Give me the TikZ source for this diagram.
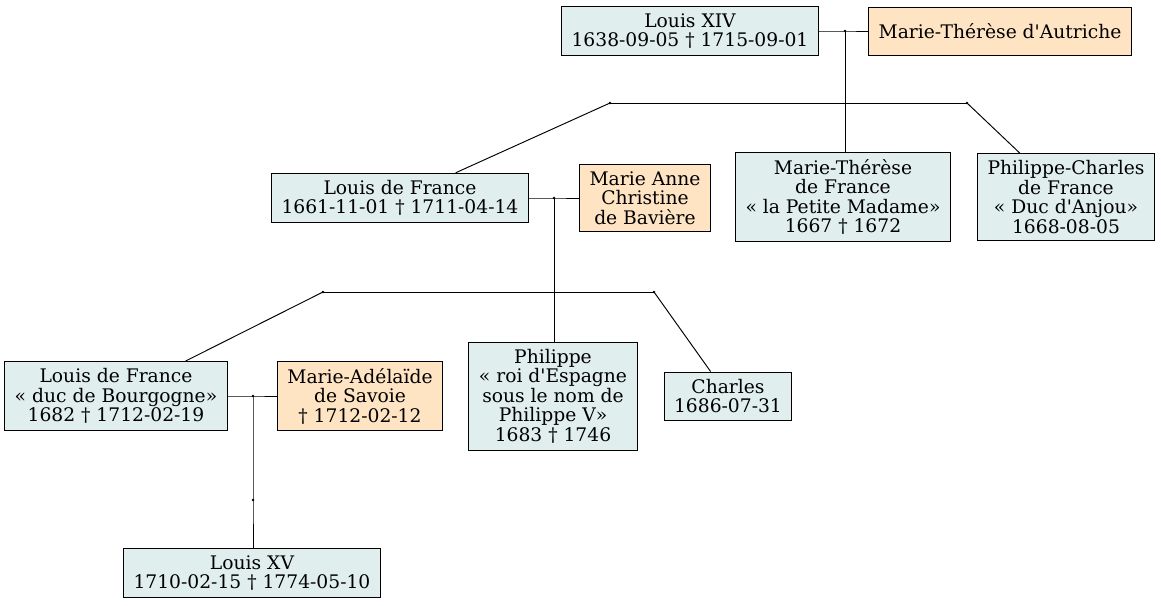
\documentclass[tikz,border=0pt]{standalone}
\usepackage{fontspec}
\setmainfont{DejaVu Serif}
\usetikzlibrary{positioning}
\definecolor{kinfill}{HTML}{E0EEEE}
\definecolor{spousefill}{HTML}{FFE4C4}
\newcommand{\ap}{\textquotesingle}

\begin{document}
\begin{tikzpicture}[
  x=1pt,y=-1pt,
  font=\fontsize{18.7}{19.5}\selectfont,
  kin/.style={draw,fill=kinfill,inner xsep=10pt,inner ysep=7pt,align=center,
              minimum height=48pt},
  spouse/.style={kin,fill=spousefill},
  jn/.style={circle,fill,inner sep=0pt,minimum size=2.8pt},
  every path/.style={line width=0.95pt}
]
\useasboundingbox (0,0) rectangle (1161,605);

\node[kin] (louis14) at (690,31) {Louis XIV\\1638-09-05 † 1715-09-01};
\node[spouse] (mtautriche) at (1000,31) {Marie-Thérèse d\ap Autriche};
\node[jn] (m1) at (845,31) {};
\node[jn] (b1l) at (610,103) {};
\node[jn] (b1r) at (967,103) {};

\node[kin] (grdauphin) at (400,198) {Louis de France\\1661-11-01 † 1711-04-14};
\node[spouse] (mabaviere) at (645,198) {Marie Anne\\Christine\\de Bavière};
\node[kin] (mtfrance) at (843,197) {Marie-Thérèse\\de France\\« la Petite Madame»\\1667 † 1672};
\node[kin] (pcharles) at (1066,197) {Philippe-Charles\\de France\\« Duc d\ap Anjou»\\1668-08-05};
\node[jn] (m2) at (554,198) {};
\node[jn] (b2l) at (323,292) {};
\node[jn] (b2r) at (654,292) {};

\node[kin] (bourgogne) at (116,396) {Louis de France\\« duc de Bourgogne»\\1682 † 1712-02-19};
\node[spouse] (masavoie) at (360,396) {Marie-Adélaïde\\de Savoie\\† 1712-02-12};
\node[kin] (philippe) at (553,396) {Philippe\\« roi d\ap Espagne\\sous le nom de\\Philippe V»\\1683 † 1746};
\node[kin] (charles) at (728,396) {Charles\\1686-07-31};
\node[jn] (m3) at (253,396) {};
\node[jn] (m3b) at (253,500) {};

\node[kin] (louis15) at (252,573) {Louis XV\\1710-02-15 † 1774-05-10};

\draw (louis14) -- (m1.center) -- (mtautriche);
\draw (m1.center) -- (m1 |- mtfrance.north);
\draw (b1l.center) -- (b1r.center);
\draw (b1l.center) -- (grdauphin); \draw (b1r.center) -- (pcharles);

\draw (grdauphin) -- (m2.center) -- (mabaviere);
\draw (m2.center) -- (m2 |- philippe.north);
\draw (b2l.center) -- (b2r.center);
\draw (b2l.center) -- (bourgogne); \draw (b2r.center) -- (charles);

\draw (bourgogne) -- (m3.center) -- (masavoie);
\draw (m3.center) -- (m3b.center) -- (m3b |- louis15.north);
\end{tikzpicture}
\end{document}
